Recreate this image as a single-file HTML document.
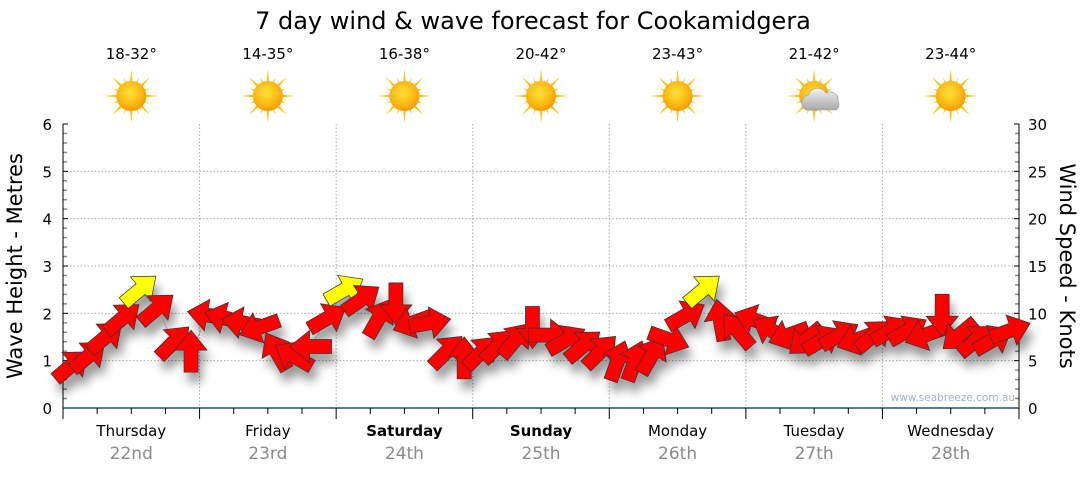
<!DOCTYPE html>
<html><head><meta charset="utf-8"><style>
body{margin:0;background:#fff;width:1080px;height:475px;overflow:hidden;font-family:"Liberation Sans","DejaVu Sans",sans-serif}
</style></head><body>
<svg id="chart" width="1080" height="475" xmlns="http://www.w3.org/2000/svg" font-family="'DejaVu Sans','Liberation Sans',sans-serif">
<defs>
<radialGradient id="sunG" cx="0.45" cy="0.4" r="0.6"><stop offset="0" stop-color="#ffe23a"/><stop offset="0.7" stop-color="#fbb510"/><stop offset="1" stop-color="#f09a08"/></radialGradient>
<linearGradient id="cloudG" x1="0" y1="0" x2="0" y2="1"><stop offset="0" stop-color="#f2f2f2"/><stop offset="1" stop-color="#a8a8a8"/></linearGradient>
<filter id="sh" x="-50%" y="-50%" width="200%" height="200%"><feGaussianBlur stdDeviation="5"/></filter>
</defs>
<text x="533" y="29" font-size="24" text-anchor="middle" fill="#000">7 day wind &amp; wave forecast for Cookamidgera</text>
<g id="topg"></g>
<g id="grid"></g>
<g id="axes"></g>
<g id="shadows" filter="url(#sh)" opacity="0.4"></g>
<g id="arrows"></g>
<text x="1015" y="401" font-size="10.5" text-anchor="end" fill="#a8b0bc">www.seabreeze.com.au</text>
<text transform="translate(22,266) rotate(-90)" font-size="21" text-anchor="middle">Wave Height - Metres</text>
<text transform="translate(1060,266) rotate(90)" font-size="21" text-anchor="middle">Wind Speed - Knots</text>
</svg>
<script>
const days=["Thursday","Friday","Saturday","Sunday","Monday","Tuesday","Wednesday"];
const dates=["22nd","23rd","24th","25th","26th","27th","28th"];
const temps=["18-32°","14-35°","16-38°","20-42°","23-43°","21-42°","23-44°"];
const cloudy=[0,0,0,0,0,1,0];
const boldDays=[0,0,1,1,0,0,0];
const waveTicks=[0,1,2,3,4,5,6];
const windTicks=[0,5,10,15,20,25,30];
const windSpeed=[4.5,5.5,7.5,9.5,12.5,10.5,7,6,
 9.8,9.5,9,8.5,6,5.5,6.5,9.5,
 12.5,11.5,9.5,11,9,9,6,5.3,
 5.9,6.6,7.2,8.5,7.7,7.2,6.6,6,
 5,5,5.6,7.2,9.8,12.5,9.3,8.2,
 9.3,8.2,7.7,7.2,7.2,7.7,7.2,7.7,
 8.2,8.2,7.7,9.8,7.7,7.2,7.2,8.2];
const windDir=[40,40,40,40,40,40,45,90,
 170,165,170,200,120,150,180,30,
 30,35,60,270,200,10,45,90,
 45,45,50,270,0,30,40,45,
 70,70,60,340,30,40,100,130,
 160,150,200,220,30,30,200,40,
 30,30,200,270,220,40,30,20];
const NS="http://www.w3.org/2000/svg";
const X0=63,X1=1019,Y0=408,Y6=124,DW=(X1-X0)/7;
const yW=m=>Y0-(m/6)*(Y0-Y6);
const yK=k=>Y0-(k/30)*(Y0-Y6);
const xT=i=>X0+(i+0.5)*DW/8;
function mk(p,t,a){const e=document.createElementNS(NS,t);for(const k in a)e.setAttribute(k,a[k]);p.appendChild(e);return e;}
const topG=document.getElementById('topg'),grid=document.getElementById('grid'),axes=document.getElementById('axes');
days.forEach((d,i)=>{
 const cx=X0+(i+0.5)*DW;
 const t=mk(topG,'text',{x:cx,y:59,'font-size':15,'text-anchor':'middle'});t.textContent=temps[i];
 
 
 const g=mk(topG,'g',{transform:`translate(${cx},96)`});
 
 
 for(let r=0;r<16;r++){const a=r*22.5,len=r%2?20:27;mk(g,'polygon',{points:`-3,0 0,-${len} 3,0`,fill:'#f7c520',transform:`rotate(${a})`});}
 mk(g,'circle',{r:15,fill:'url(#sunG)'});
 if(cloudy[i]){mk(g,'path',{d:'M-8,14 a8,8 0 0 1 2,-15 a10,10 0 0 1 18,-2 a8,8 0 0 1 12,8 a7,7 0 0 1 -2,9 z',fill:'url(#cloudG)',stroke:'#999','stroke-width':0.6});}
 const dl=mk(axes,'text',{x:cx,y:436,'font-size':15,'text-anchor':'middle','font-weight':boldDays[i]?'bold':'normal'});dl.textContent=d;
 
 
 const dt=mk(axes,'text',{x:cx,y:459,'font-size':17,'text-anchor':'middle',fill:'#8a8a8a'});dt.textContent=dates[i];
 
 
 if(i>0){const gl=mk(grid,'line',{x1:X0+i*DW,x2:X0+i*DW,y1:Y6,y2:Y0,stroke:'#aaa','stroke-dasharray':'1.5,2'});
 
 }
});
waveTicks.forEach(m=>{
 const y=yW(m);
 if(m>0&&m<6){const gl=mk(grid,'line',{x1:X0,x2:X1,y1:y,y2:y,stroke:'#aaa','stroke-dasharray':'1.5,2'});
 
 }
 const t=mk(axes,'text',{x:52,y:y+6,'font-size':15,'text-anchor':'end'});t.textContent=m;
 
 
 mk(axes,'line',{x1:X0,x2:X0+5,y1:y,y2:y,stroke:'#000'});
 if(m<6)for(let s=1;s<5;s++){const yy=y-s*(Y0-Y6)/30;mk(axes,'line',{x1:X0,x2:X0+4,y1:yy,y2:yy,stroke:'#888','stroke-width':1.5});}
});
windTicks.forEach(k=>{
 const y=yK(k);
 const t=mk(axes,'text',{x:1028,y:y+6,'font-size':15});t.textContent=k;
 
 
 mk(axes,'line',{x1:X1-5,x2:X1,y1:y,y2:y,stroke:'#000'});
 if(k<30)for(let s=1;s<5;s++){const yy=y-s*(Y0-Y6)/30;mk(axes,'line',{x1:X1-4,x2:X1,y1:yy,y2:yy,stroke:'#888','stroke-width':1.5});}
});
mk(axes,'line',{x1:X0,x2:X0,y1:Y6,y2:Y0,stroke:'#000'});
mk(axes,'line',{x1:X1,x2:X1,y1:Y6,y2:Y0,stroke:'#000'});
mk(axes,'line',{x1:X0,x2:X1,y1:Y0,y2:Y0,stroke:'#1d4f7c','stroke-width':1.5});
for(let i=0;i<=28;i++){const x=X0+i*DW/4;mk(axes,'line',{x1:x,x2:x,y1:Y0,y2:Y0+(i%4?6:11),stroke:'#000'});}
const arrows=document.getElementById('arrows'),shadows=document.getElementById('shadows');
const pts=windSpeed.map((s,i)=>xT(i)+','+yK(s)).join(' ');
mk(arrows,'polyline',{points:pts,fill:'none',stroke:'#999','stroke-width':1});
const shape='-21,-7 1,-7 1,-16 21,0 1,16 1,7 -21,7';
windSpeed.forEach((s,i)=>{
 const x=xT(i),y=yK(s),tr=`translate(${x},${y}) rotate(${-windDir[i]})`;
 mk(shadows,'polygon',{points:shape,fill:'#000',transform:`translate(${x+4},${y+10}) rotate(${-windDir[i]})`});
 const a=mk(arrows,'polygon',{points:shape,fill:s>=12?'#ffff00':'#ff0000',stroke:'#333','stroke-width':0.7,transform:tr});
 
 
});
</script>
</body></html>
